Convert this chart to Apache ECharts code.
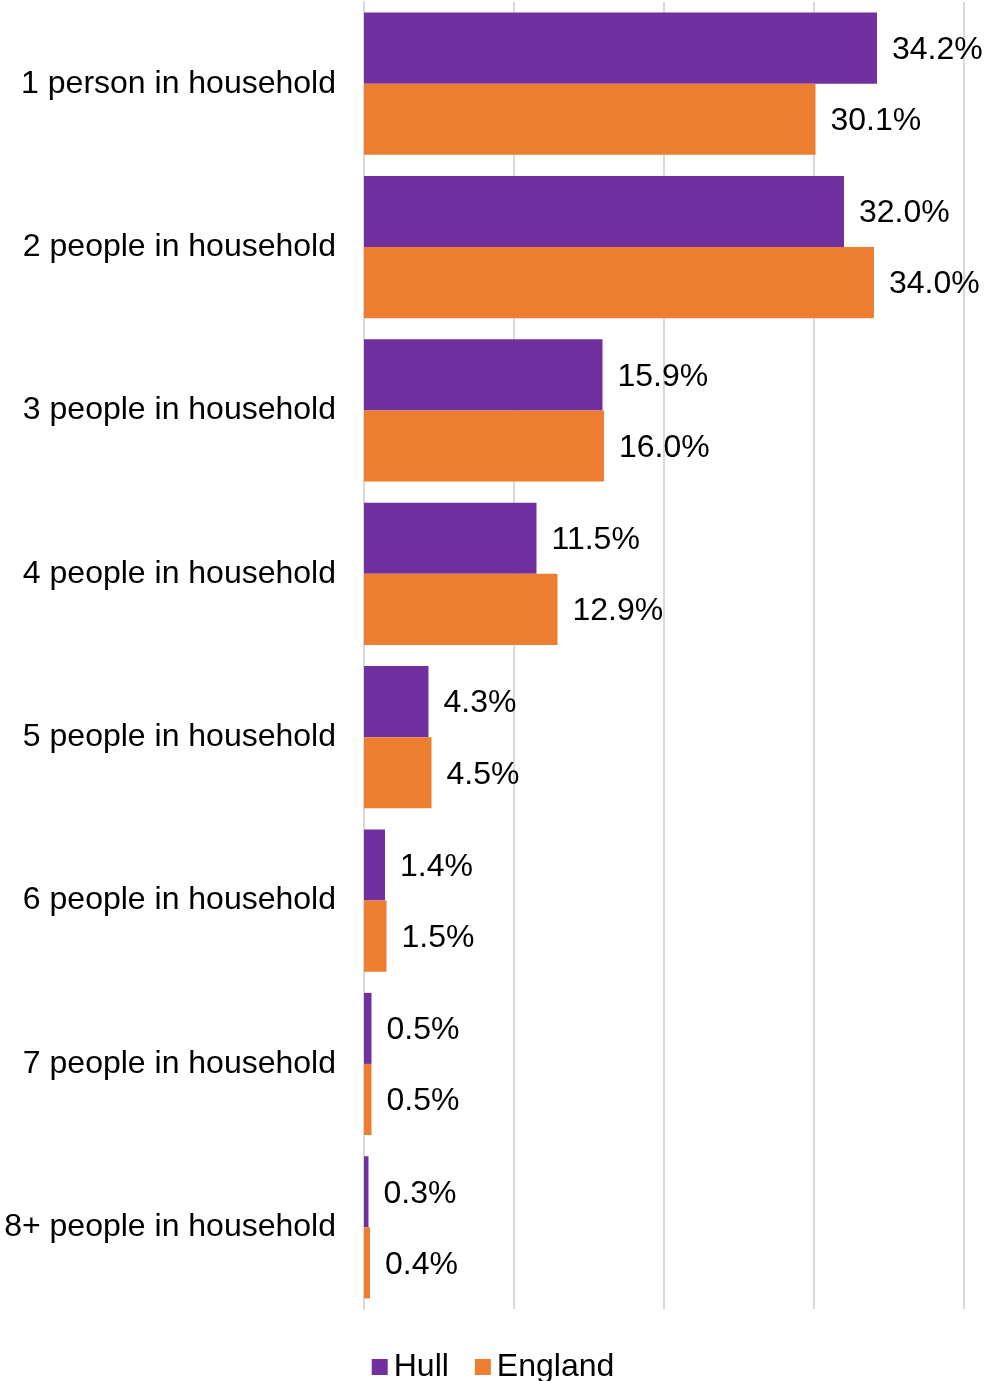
<!DOCTYPE html>
<html><head><meta charset="utf-8">
<script src="https://cdn.jsdelivr.net/npm/echarts@6/dist/echarts.min.js"></script>
<style>html,body{margin:0;padding:0;background:#fff}#c{width:986px;height:1381px}</style>
</head><body><div id="c"></div>
<script>
const categories = ['1 person in household','2 people in household','3 people in household','4 people in household','5 people in household','6 people in household','7 people in household','8+ people in household'];
const hull = [34.2, 32.0, 15.9, 11.5, 4.3, 1.4, 0.5, 0.3];
const england = [30.1, 34.0, 16.0, 12.9, 4.5, 1.5, 0.5, 0.4];
const FONT = "'Liberation Sans', Arial, sans-serif";
const chart = echarts.init(document.getElementById('c'));
const lbl = {show:true, position:'right', distance:15, fontSize:32, fontFamily:FONT, color:'#000', offset:[0,2], formatter:p=>p.value.toFixed(1)+'%'};
chart.setOption({
  animation:false,
  grid:{left:364, right:22, top:2, bottom:72, containLabel:false},
  legend:{top:1346, left:'center', itemWidth:16, itemHeight:16, itemGap:26, icon:'rect',
    textStyle:{fontSize:32, fontFamily:FONT, color:'#000', padding:[0,0,0,1]}},
  xAxis:{type:'value', min:0, max:40, interval:10,
    axisLabel:{show:false}, axisLine:{show:false}, axisTick:{show:false},
    splitLine:{show:true, lineStyle:{color:'#d9d9d9', width:2}}},
  yAxis:{type:'category', data:categories, inverse:true,
    axisLine:{show:true, lineStyle:{color:'#d9d9d9', width:2}}, axisTick:{show:false},
    axisLabel:{fontSize:32, fontFamily:FONT, color:'#000', margin:28}},
  series:[
    {name:'Hull', type:'bar', data:hull, barGap:'0%', barCategoryGap:'13%', itemStyle:{color:'#7030A0'}, label:lbl},
    {name:'England', type:'bar', data:england, barGap:'0%', barCategoryGap:'13%', itemStyle:{color:'#ED7D31'}, label:lbl}
  ]
});
</script></body></html>
